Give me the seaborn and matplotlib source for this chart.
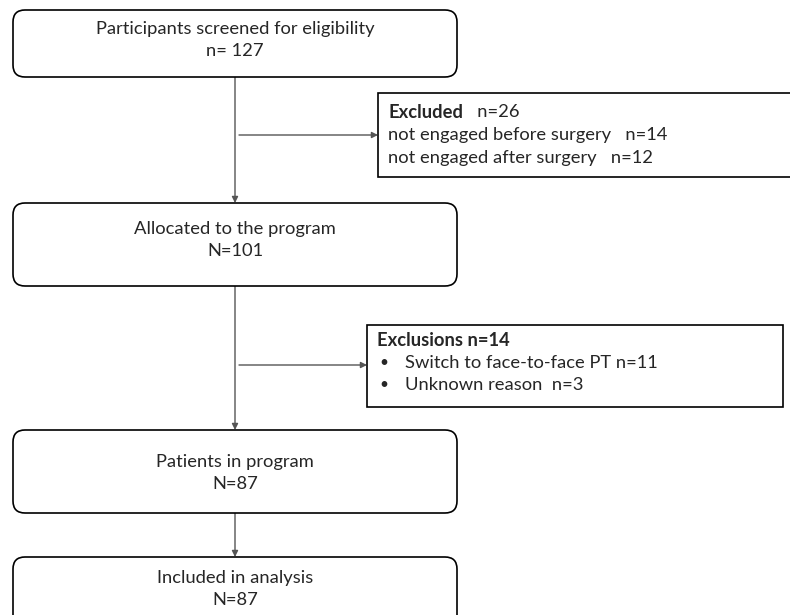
import matplotlib
matplotlib.use('Agg')
import matplotlib.pyplot as plt # vizualizācija
import seaborn as sns # stils
from matplotlib.patches import FancyBboxPatch, Rectangle

# stils
sns.set_style('white')
plt.rcParams['font.family'] = ['Lato', 'DejaVu Sans']

# dati
main_labels = ['Participants screened for eligibility', 'Allocated to the program',
               'Patients in program', 'Included in analysis']
main_counts = ['n= 127', 'N=101', 'N=87', 'N=87']

excluded_title = 'Excluded'
excluded_total = 26
excluded_reasons = ['not engaged before surgery', 'not engaged after surgery']
excluded_n = [14, 12]

exclusions_title = 'Exclusions n=14'
exclusions_reasons = ['Switch to face-to-face PT', 'Unknown reason']
exclusions_n = [11, 3]

fig = plt.figure(figsize=(7.9, 6.15), dpi=100)
ax = fig.add_axes([0, 0, 1, 1])
ax.set_xlim(0, 790)
ax.set_ylim(615, 0)
ax.axis('off')

FS = 13.2
CX = 235

# galvenie bloki (top, bottom, teksta centrs)
boxes = [(10, 77, 40), (203, 286, 240), (430, 513, 473), (557, 650, 589)]
for (top, bot, mid), lab, cnt in zip(boxes, main_labels, main_counts):
    ax.add_patch(FancyBboxPatch((13, top), 444, bot - top,
                                boxstyle='round,pad=0,rounding_size=12',
                                fc='white', ec='black', lw=1.2, zorder=2))
    ax.text(CX, mid - 11, lab, ha='center', va='center', fontsize=FS, zorder=3)
    ax.text(CX, mid + 11, cnt, ha='center', va='center', fontsize=FS, zorder=3)

# vertikālās līnijas ar bultām
line_col = '#555555'
for top, bot in [(77, 203), (286, 430), (513, 557)]:
    ax.annotate('', xy=(CX, bot), xytext=(CX, top),
                arrowprops=dict(arrowstyle='-|>', color=line_col, lw=1.0,
                                mutation_scale=9, shrinkA=0, shrinkB=0), zorder=1)

# izslēgto bloki
ax.add_patch(Rectangle((378, 93), 430, 84, fc='white', ec='black', lw=1.2, zorder=2))
ax.add_patch(Rectangle((367, 325), 416, 82, fc='white', ec='black', lw=1.2, zorder=2))

for y, xe in [(135, 378), (365, 367)]:
    ax.annotate('', xy=(xe, y), xytext=(CX + 4, y),
                arrowprops=dict(arrowstyle='-|>', color=line_col, lw=1.0,
                                mutation_scale=9, shrinkA=0, shrinkB=0), zorder=1)

# Excluded teksts
t = ax.text(388, 112, excluded_title, ha='left', va='center', fontsize=FS,
            fontweight='bold', zorder=3)
ax.annotate('   n={}'.format(excluded_total), xy=(1, 0.5), xycoords=t,
            ha='left', va='center', fontsize=FS, zorder=3)
for i, (r, n) in enumerate(zip(excluded_reasons, excluded_n)):
    ax.text(388, 135 + 23 * i, '{}   n={}'.format(r, n), ha='left', va='center',
            fontsize=FS, zorder=3)

# Exclusions teksts
ax.text(377, 341, exclusions_title, ha='left', va='center', fontsize=FS,
        fontweight='bold', zorder=3)
sep = [' ', '  ']
for i, (r, n) in enumerate(zip(exclusions_reasons, exclusions_n)):
    y = 363 + 22 * i
    ax.text(379, y, '\u2022', ha='left', va='center', fontsize=FS - 2, zorder=3)
    ax.text(405, y, '{}{}n={}'.format(r, sep[i], n), ha='left', va='center',
            fontsize=FS, zorder=3)

fig.savefig('out.png', dpi=100)
